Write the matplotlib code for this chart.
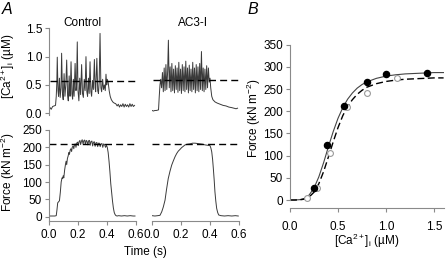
import matplotlib
matplotlib.use("Agg")
import matplotlib.pyplot as plt
import numpy as np

plt.rcParams['font.family'] = ['Liberation Sans', 'DejaVu Sans']
plt.rcParams['font.size'] = 8.5
plt.rcParams['mathtext.fontset'] = 'custom'
plt.rcParams['mathtext.rm'] = 'Liberation Sans'
plt.rcParams['mathtext.it'] = 'Liberation Sans:italic'

# --- panel A, Ca transients (time s, [Ca2+]i uM) ---
ctrl_ca_t = [0.000, 0.008, 0.015, 0.025, 0.035, 0.045, 0.050, 0.054, 0.057, 0.062, 0.066, 0.072,
             0.077, 0.083, 0.087, 0.093, 0.098, 0.104, 0.110, 0.116, 0.122, 0.128, 0.133, 0.139,
             0.145, 0.148, 0.152, 0.158, 0.163, 0.168, 0.173, 0.180, 0.186, 0.190, 0.195, 0.200,
             0.206, 0.212, 0.218, 0.225, 0.231, 0.237, 0.243, 0.249, 0.255, 0.261, 0.266, 0.272,
             0.277, 0.283, 0.289, 0.294, 0.300, 0.306, 0.313, 0.318, 0.322, 0.330, 0.336, 0.341,
             0.346, 0.352, 0.358, 0.363, 0.370, 0.376, 0.382, 0.388, 0.393, 0.398, 0.402, 0.408,
             0.415, 0.422, 0.430, 0.440, 0.450, 0.460, 0.470, 0.478, 0.486, 0.494, 0.502, 0.510,
             0.518, 0.526, 0.534, 0.542, 0.550, 0.558, 0.566, 0.574, 0.582, 0.590]
ctrl_ca = [0.06, 0.10, 0.07, 0.12, 0.13, 0.14, 0.30, 0.55, 0.99, 0.40, 0.30, 0.62,
           0.28, 0.45, 1.06, 0.35, 0.24, 0.70, 0.30, 0.50, 0.94, 0.32, 0.22, 0.66,
           0.30, 0.48, 0.91, 0.34, 0.25, 0.60, 0.30, 0.88, 0.40, 0.50, 1.26, 0.40,
           0.22, 0.62, 0.33, 0.86, 0.35, 0.28, 0.60, 0.40, 1.00, 0.38, 0.30, 0.62,
           0.35, 0.91, 0.38, 0.30, 0.58, 0.42, 0.95, 0.45, 0.38, 0.97, 0.40, 0.35,
           0.55, 1.41, 0.45, 0.38, 0.60, 0.42, 0.50, 0.40, 0.69, 0.50, 0.60, 0.55,
           0.40, 0.30, 0.24, 0.20, 0.18, 0.17, 0.13, 0.16, 0.11, 0.15, 0.12, 0.17,
           0.11, 0.16, 0.12, 0.15, 0.11, 0.17, 0.12, 0.16, 0.12, 0.14]

ac3_ca_t = [0.000, 0.010, 0.020, 0.030, 0.045, 0.050, 0.055, 0.060, 0.066, 0.072, 0.078, 0.084,
            0.090, 0.096, 0.102, 0.108, 0.113, 0.119, 0.125, 0.131, 0.137, 0.143, 0.149, 0.155,
            0.161, 0.167, 0.173, 0.179, 0.185, 0.191, 0.197, 0.203, 0.209, 0.215, 0.221, 0.227,
            0.233, 0.239, 0.245, 0.251, 0.257, 0.263, 0.269, 0.275, 0.281, 0.287, 0.293, 0.299,
            0.305, 0.311, 0.317, 0.323, 0.329, 0.335, 0.341, 0.347, 0.353, 0.359, 0.365, 0.371,
            0.377, 0.383, 0.389, 0.395, 0.400, 0.405, 0.412, 0.420, 0.435, 0.450, 0.470, 0.490,
            0.510, 0.530, 0.550, 0.565, 0.580, 0.590]
ac3_ca = [0.05, 0.04, 0.05, 0.05, 0.06, 0.30, 0.50, 0.60, 0.45, 0.72, 0.38, 0.80,
          0.40, 0.86, 0.42, 0.75, 1.29, 0.45, 0.82, 0.38, 0.88, 0.40, 0.78, 0.36,
          0.84, 0.42, 0.80, 0.37, 0.90, 0.40, 0.78, 0.35, 0.86, 0.40, 0.82, 0.38,
          0.92, 0.42, 0.80, 0.36, 0.85, 0.40, 0.78, 0.38, 0.90, 0.42, 0.80, 0.36,
          0.86, 0.40, 0.82, 0.38, 0.88, 0.42, 1.09, 0.40, 0.80, 0.38, 0.78, 0.42,
          0.84, 0.45, 0.80, 0.55, 0.62, 0.45, 0.30, 0.24, 0.20, 0.18, 0.16, 0.14,
          0.13, 0.11, 0.10, 0.09, 0.08, 0.09]

# --- panel A, force traces (time s, kN m-2) ---
ctrl_f_t = [0.000, 0.020, 0.040, 0.050, 0.055, 0.060, 0.066, 0.072, 0.078, 0.084, 0.090, 0.094,
            0.098, 0.102, 0.108, 0.114, 0.118, 0.122, 0.127, 0.132, 0.137, 0.141, 0.146, 0.151,
            0.156, 0.160, 0.166, 0.171, 0.176, 0.181, 0.186, 0.191, 0.197, 0.202, 0.207, 0.213,
            0.218, 0.224, 0.229, 0.235, 0.240, 0.246, 0.251, 0.257, 0.262, 0.268, 0.273, 0.279,
            0.284, 0.290, 0.296, 0.301, 0.307, 0.313, 0.318, 0.324, 0.330, 0.336, 0.341, 0.347,
            0.353, 0.359, 0.365, 0.371, 0.377, 0.383, 0.390, 0.396, 0.402, 0.408, 0.414, 0.420,
            0.426, 0.432, 0.438, 0.444, 0.450, 0.456, 0.462, 0.470, 0.480, 0.500, 0.520, 0.540,
            0.560, 0.580, 0.593]
ctrl_f = [2, 2, 2, 3, 20, 40, 43, 46, 70, 100, 112, 110,
          118, 112, 135, 152, 160, 150, 168, 175, 185, 180, 192, 196,
          188, 200, 204, 196, 208, 210, 200, 212, 215, 205, 216, 220,
          208, 218, 222, 210, 219, 221, 208, 220, 218, 207, 219, 220,
          206, 217, 218, 204, 215, 216, 203, 213, 214, 202, 212, 212,
          202, 210, 211, 200, 210, 208, 200, 206, 200, 185, 160, 130,
          95, 70, 45, 25, 12, 6, 3, 2, 3, 2, 3, 2,
          3, 2, 2]

ac3_f_t = [0.000, 0.020, 0.040, 0.055, 0.067, 0.078, 0.090, 0.100, 0.112, 0.124, 0.136, 0.148,
           0.159, 0.170, 0.181, 0.193, 0.204, 0.216, 0.228, 0.245, 0.262, 0.280, 0.297, 0.314,
           0.331, 0.348, 0.366, 0.383, 0.400, 0.406, 0.412, 0.418, 0.423, 0.429, 0.434, 0.440,
           0.446, 0.453, 0.460, 0.475, 0.500, 0.525, 0.550, 0.575, 0.595]
ac3_f = [3, 2, 3, 4, 14, 28, 48, 78, 110, 131, 149, 162,
         173, 182, 189, 194, 199, 203, 207, 209, 210, 212, 212, 211,
         210, 209, 207, 206, 205, 198, 187, 165, 139, 105, 72, 45,
         24, 12, 5, 3, 2, 3, 2, 3, 2]

# reference levels (dashed)
ca_ref = [0.57, 0.59]
f_ref = [209, 209]

# --- panel B, force-Ca relation ---
ctrl_x = [0.25, 0.385, 0.56, 0.80, 1.00, 1.43]
ctrl_y = [27, 124, 212, 266, 284, 286]
ac3_x = [0.18, 0.28, 0.42, 0.59, 0.80, 1.11]
ac3_y = [5, 28, 105, 210, 241, 274]

fit_x = [0.0, 0.05, 0.1, 0.15, 0.2, 0.25, 0.3, 0.35, 0.4, 0.45, 0.5, 0.55, 0.6,
         0.65, 0.7, 0.75, 0.8, 0.9, 1.0, 1.1, 1.2, 1.3, 1.4, 1.5, 1.6]
ctrl_fit = [0, 0.1, 0.7, 3.6, 11.4, 27, 52, 84, 120, 154, 184, 208, 227,
            241, 252, 260, 266, 274, 279, 282, 284, 285, 286, 287, 287]
ac3_fit = [0, 0, 0.3, 2.0, 6.9, 17.6, 36.5, 64, 97, 131, 163, 190, 211,
           226, 238, 247, 254, 262, 267, 270, 272, 273, 274, 275, 275]

W, H = 447, 260
fig = plt.figure(figsize=(W / 100, H / 100), dpi=100)
spine_c = '#8a8a8a'
trace_c = '#3a3a3a'


def ax_px(l, t, r, b):
    return fig.add_axes([l / W, 1 - b / H, (r - l) / W, (b - t) / H])


def style(ax, left=True, bottom=True):
    for s in ['top', 'right']:
        ax.spines[s].set_visible(False)
    ax.spines['left'].set_visible(left)
    ax.spines['bottom'].set_visible(bottom)
    for s in ['left', 'bottom']:
        ax.spines[s].set_color(spine_c)
        ax.spines[s].set_linewidth(0.8)
    ax.tick_params(color=spine_c, length=3, width=0.8, pad=2, labelsize=8.5)
    ax.patch.set_alpha(0)


# Ca panels
ca_axes = [ax_px(49, 28.3, 136, 115), ax_px(152, 28.3, 239, 115)]
ca_data = [(ctrl_ca_t, ctrl_ca), (ac3_ca_t, ac3_ca)]
for i, ax in enumerate(ca_axes):
    t, c = ca_data[i]
    ax.plot(t, c, color=trace_c, lw=0.7)
    ax.plot([0.005, 0.592], [ca_ref[i]] * 2, color='black', lw=1.0, dashes=(5, 3))
    ax.set_xlim(0, 0.6)
    ax.set_ylim(-0.03, 1.5)
    style(ax, left=(i == 0), bottom=False)
    ax.set_xticks([])
    if i == 0:
        ax.set_yticks([0, 0.5, 1.0, 1.5])
        ax.set_yticklabels(['0.0', '0.5', '1.0', '1.5'])
    else:
        ax.set_yticks([])

# force panels
f_axes = [ax_px(49, 130, 136, 221), ax_px(152, 130, 239, 221)]
f_data = [(ctrl_f_t, ctrl_f), (ac3_f_t, ac3_f)]
for i, ax in enumerate(f_axes):
    t, f = f_data[i]
    ax.plot(t, f, color=trace_c, lw=0.7)
    ax.plot([0.0, 0.593], [f_ref[i]] * 2, color='black', lw=1.0, dashes=(5, 3))
    ax.set_xlim(0, 0.6)
    ax.set_ylim(-12.4, 250)
    style(ax, left=(i == 0), bottom=True)
    ax.set_xticks([0, 0.2, 0.4, 0.6])
    ax.set_xticklabels(['0.0', '0.2', '0.4', '0.6'])
    ax.tick_params(axis='x', pad=3)
    if i == 0:
        ax.set_yticks([0, 50, 100, 150, 200, 250])
    else:
        ax.set_yticks([])

fig.text(82 / W, 1 - 23 / H, 'Control', ha='center', va='center')
fig.text(193 / W, 1 - 23 / H, 'AC3-I', ha='center', va='center')
fig.text(8 / W, 1 - 66 / H, r'[Ca$^{2+}$]$_{\rm i}$ (µM)', rotation=90,
         ha='center', va='center')
fig.text(8 / W, 1 - 172 / H, r'Force (kN m$^{-2}$)', rotation=90,
         ha='center', va='center')
fig.text(145 / W, 1 - 252 / H, 'Time (s)', ha='center', va='center')
fig.text(2 / W, 1 - 9 / H, 'A', fontsize=11.5, style='italic', ha='left', va='center')
fig.text(247 / W, 1 - 9 / H, 'B', fontsize=11.5, style='italic', ha='left', va='center')

# panel B
axb = ax_px(290, 44.6, 443.6, 208)
axb.plot(fit_x, ctrl_fit, color='#444444', lw=0.8)
axb.plot(fit_x, ac3_fit, color='black', lw=1.0, dashes=(5, 2.5))
axb.plot(ac3_x, ac3_y, 'o', ms=4.2, mfc='white', mec='#9a9a9a', mew=0.8)
axb.plot(ctrl_x, ctrl_y, 'o', ms=4.4, mfc='black', mec='black')
axb.set_xlim(0, 1.6)
axb.set_ylim(-18, 350)
style(axb)
axb.spines['left'].set_bounds(0, 350)
axb.set_yticks([0, 50, 100, 150, 200, 250, 300, 350])
axb.set_xticks([0, 0.5, 1.0, 1.5])
axb.set_xticklabels(['0.0', '0.5', '1.0', '1.5'])
axb.tick_params(axis='x', pad=6)
fig.text(367 / W, 1 - 241 / H, r'[Ca$^{2+}$]$_{\rm i}$ (µM)', ha='center',
         va='center')
fig.text(254 / W, 1 - 118 / H, r'Force (kN m$^{-2}$)', rotation=90,
         ha='center', va='center')

fig.savefig('out.png', dpi=100)
